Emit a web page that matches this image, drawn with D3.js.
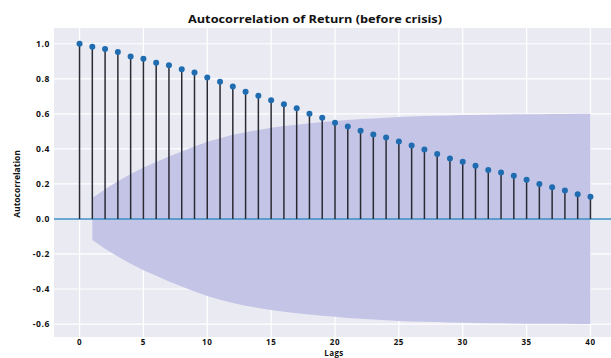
<!DOCTYPE html>
<html lang="en">
<head>
    <meta charset="UTF-8">
    <title>Autocorrelation of Return (before crisis)</title>
    <script src="https://cdnjs.cloudflare.com/ajax/libs/d3/7.8.5/d3.min.js"></script>
    <style>
        body { margin: 0; background: #fff; }
        text { font-family: "Open Sans", sans-serif; font-weight: 700; fill: #111; }
    </style>
</head>
<body>
    <div id="chart"></div>

    <script>
        // ACF values, lag 0..40
        const lags = d3.range(0, 41);
        const acf = [1.0, 0.983, 0.970, 0.953, 0.928, 0.914, 0.891, 0.878, 0.855, 0.836,
                     0.808, 0.783, 0.756, 0.726, 0.703, 0.678, 0.655, 0.632, 0.600, 0.577,
                     0.549, 0.528, 0.503, 0.482, 0.465, 0.442, 0.419, 0.396, 0.370, 0.345,
                     0.326, 0.303, 0.280, 0.265, 0.246, 0.224, 0.200, 0.181, 0.162, 0.141, 0.126];
        // confidence band half-width, lag 1..40
        const confLags = d3.range(1, 41);
        const confWidth = [0.120, 0.170, 0.215, 0.256, 0.293, 0.325, 0.357, 0.385, 0.414, 0.440,
                           0.461, 0.480, 0.495, 0.508, 0.520, 0.530, 0.538, 0.546, 0.553, 0.559,
                           0.565, 0.570, 0.574, 0.578, 0.582, 0.585, 0.587, 0.589, 0.591, 0.593,
                           0.594, 0.595, 0.596, 0.597, 0.598, 0.598, 0.599, 0.599, 0.600, 0.600];
        const xTicks = [0, 5, 10, 15, 20, 25, 30, 35, 40];
        const yTicks = [-0.6, -0.4, -0.2, 0.0, 0.2, 0.4, 0.6, 0.8, 1.0];

        const W = 611, H = 358;
        const plot = {left: 54, right: 616, top: 28, bottom: 337};

        const svg = d3.select("#chart").append("svg")
            .attr("width", W)
            .attr("height", H);

        const x = d3.scaleLinear().domain([-2, 42]).range([plot.left, plot.right]);
        const y = d3.scaleLinear().domain([-0.674, 1.09]).range([plot.bottom, plot.top]);

        // panel background
        svg.append("rect")
            .attr("x", plot.left)
            .attr("y", plot.top)
            .attr("width", plot.right - plot.left)
            .attr("height", plot.bottom - plot.top)
            .attr("fill", "#eaeaf2");

        // grid
        svg.append("g").selectAll("line.gx")
            .data(xTicks).enter().append("line")
            .attr("x1", d => x(d)).attr("x2", d => x(d))
            .attr("y1", plot.top).attr("y2", plot.bottom)
            .attr("stroke", "#fff").attr("stroke-width", 1.2);
        svg.append("g").selectAll("line.gy")
            .data(yTicks).enter().append("line")
            .attr("x1", plot.left).attr("x2", plot.right)
            .attr("y1", d => y(d)).attr("y2", d => y(d))
            .attr("stroke", "#fff").attr("stroke-width", 1.2);

        // confidence band
        const band = d3.area()
            .x((d, i) => x(confLags[i]))
            .y0(d => y(-d))
            .y1(d => y(d));
        svg.append("path")
            .datum(confWidth)
            .attr("fill", "#c4c5e6")
            .attr("d", band);

        // zero line
        svg.append("line")
            .attr("x1", plot.left).attr("x2", plot.right)
            .attr("y1", y(0)).attr("y2", y(0))
            .attr("stroke", "#3a8cc4").attr("stroke-width", 1.6);

        // stems
        svg.append("g").selectAll("line")
            .data(acf).enter().append("line")
            .attr("x1", (d, i) => x(lags[i])).attr("x2", (d, i) => x(lags[i]))
            .attr("y1", y(0)).attr("y2", d => y(d))
            .attr("stroke", "#2a2a35").attr("stroke-width", 1.5);

        // markers
        svg.append("g").selectAll("circle")
            .data(acf).enter().append("circle")
            .attr("cx", (d, i) => x(lags[i]))
            .attr("cy", d => y(d))
            .attr("r", 3)
            .attr("fill", "#1f6db0");

        // y tick labels
        svg.append("g").selectAll("text")
            .data(yTicks).enter().append("text")
            .attr("x", 50)
            .attr("y", d => y(d))
            .attr("dy", "0.35em")
            .attr("text-anchor", "end")
            .attr("font-size", 8.5)
            .attr("letter-spacing", 0.6)
            .text(d => d.toFixed(1));

        // x tick labels
        svg.append("g").selectAll("text")
            .data(xTicks).enter().append("text")
            .attr("x", d => x(d))
            .attr("y", 345)
            .attr("text-anchor", "middle")
            .attr("font-size", 8)
            .attr("letter-spacing", 0.6)
            .text(d => d);

        // title and axis labels
        svg.append("text")
            .attr("x", 315)
            .attr("y", 23)
            .attr("text-anchor", "middle")
            .attr("font-size", 10)
            .attr("textLength", 254)
            .attr("lengthAdjust", "spacingAndGlyphs")
            .text("Autocorrelation of Return (before crisis)");

        svg.append("text")
            .attr("x", 334)
            .attr("y", 356)
            .attr("text-anchor", "middle")
            .attr("font-size", 8)
            .attr("letter-spacing", 0.4)
            .text("Lags");

        svg.append("text")
            .attr("transform", "translate(20,184) rotate(-90)")
            .attr("text-anchor", "middle")
            .attr("font-size", 8.5)
            .text("Autocorrelation");
    </script>
</body>
</html>
